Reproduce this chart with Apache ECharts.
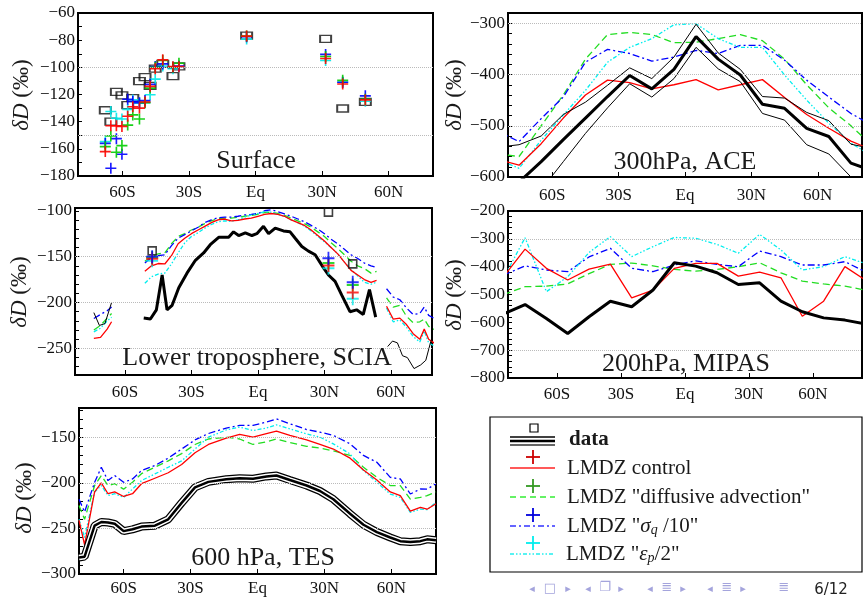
<!DOCTYPE html>
<html>
<head>
<meta charset="utf-8">
<script src="https://cdn.jsdelivr.net/npm/echarts@6/dist/echarts.min.js"></script>
<style>
html, body { margin: 0; padding: 0; background: #fff; }
#chart { width: 863px; height: 599px; }
</style>
</head>
<body>
<div id="chart"></div>
<script>
// ---------- Surface (stations) ----------
var surfLat   = [-67.7, -65.2, -62.7, -60.2, -57.6, -55.3, -52.3, -49.8, -47.5, -45.2, -41.8, -37.2, -34.5, -4, 31.6, 39.3, 49.5];
var surfObs   = [-131.6, -140, -118, -120.7, -127.9, -122.7, -110.2, -107.2, -113.6, -101, -97.4, -106.5, -99.3, -76.7, -79, -130.3, -125.4];
var surfRed   = [-162, -143, -143, -143.5, -136, -129, -130, -125.5, -114, -101, -94.5, -99.5, -99.5, -77, -93.5, -112.3, -124];
var surfGreen = [-158.4, -150.5, -162.5, -157.6, -142.5, -135, -138, -126, -115.3, -100, -95, -100, -97, -77, -92, -109.6, -123.5];
var surfBlue  = [-156, -174.3, -152.5, -164, -123.5, -125, -126, -124.5, -112.5, -99.4, -97.5, -100, -99, -77.5, -90.5, -111, -121];
var surfCyan  = [-154.7, -132.5, -137.5, -138, -131, -124, -126.4, -126, -120.2, -108.7, -99, -101, -99.5, -79.2, -95, -111, -125];

// ---------- 300hPa ACE ----------
var aceLat   = [-85, -75, -65, -55, -45, -35, -25, -15, -5, 5, 15, 25, 35, 45, 55, 65, 75, 85];
var aceObs   = [-650, -610, -570, -527, -485, -443, -402, -428, -390, -326, -370, -401, -458, -466, -505, -521, -573, -588];
var aceHi    = [-542, -537, -520, -478, -454, -421, -387, -408, -366, -302, -358, -390, -443, -446, -474, -490, -536, -545];
var aceLo    = [-700, -680, -625, -570, -515, -465, -418, -444, -408, -347, -389, -414, -476, -489, -537, -555, -600, -640];
var aceRed   = [-565, -577, -535, -485, -440, -411, -416, -428, -420, -410, -430, -420, -410, -445, -478, -505, -530, -548];
var aceGreen = [-555, -560, -500, -440, -370, -322, -318, -322, -338, -337, -330, -322, -334, -370, -420, -465, -500, -540];
var aceBlue  = [-510, -531, -486, -444, -376, -351, -359, -374, -366, -353, -359, -343, -343, -372, -411, -444, -476, -500];
var aceCyan  = [-565, -583, -528, -479, -431, -376, -347, -330, -303, -301, -330, -347, -347, -401, -450, -495, -534, -560];

// ---------- Lower troposphere SCIA ----------
var sciaLat = [-74, -71, -68, -66, -60,
  -51, -48, -45, -42, -39, -36, -33, -30, -27, -24, -21, -18, -15, -12, -9, -6, -3, 0,
  3, 6, 9, 12, 15, 18, 21, 24, 27, 30, 33, 36, 39, 42, 45, 48, 51, 53.5, 56,
  58, 61, 64, 67, 70, 73, 75, 77, 80];
var sciaRed = [-239, -238, -229, -221, null,
  -166, -160, -157.5, -158, -149, -136, -130, -125, -121, -117, -113, -110, -109, -111, -110.5, -109, -108, -106,
  -104, -103, -104, -106, -110, -113, -116, -121, -127, -133, -140, -147, -156, -165, -170, -175, -178, -176, null,
  -204, -218, -217, -224, -234, -240, -229, -240, -245];
var sciaGreen = [-230, -225, -217, -212, null,
  -155, -150, -147, -146, -136, -128, -125, -121, -118, -114, -111, -108.5, -108, -108, -107, -106, -105, -104,
  -102, -101.5, -103, -105, -108, -111, -114, -118, -123, -128, -135, -141, -148, -155, -160, -163, -168, -166, null,
  -195, -205, -203, -215, -222, -221, -218, -226, -230];
var sciaBlue = [-217.5, -213, -209, -205, null,
  -157, -151, -149, -148, -138, -130, -126, -122, -118, -113, -110, -107.5, -107, -107, -106, -104.5, -104, -103,
  -100, -99, -101, -103.5, -106, -109, -112, -116, -120, -125, -131, -136, -142, -148, -152, -157, -160, -162, null,
  -185, -194, -197, -206, -213, -212, -205, -214, -218];
var sciaCyan = [-232, -228, -220, -216, null,
  -179, -172, -169, -168, -158, -146, -135, -128, -124, -119, -115, -112, -111, -111.5, -110, -107, -104.5, -103,
  -101, -101.5, -104, -106, -110, -113, -117, -122, -128, -134, -140, -147, -156, -164, -171, -178, -180, -178, null,
  -206, -221, -219, -227, -237, -243, -231, -244, -248];
var sciaObsLat = [-51.5, -48.5, -45.8, -43.2, -41, -38.7, -35.7, -32, -28.2, -24.5, -21.5, -17.7, -13.2, -11, -8.7, -5.7, -2.7, -0.5,
  2.5, 4.8, 7.8, 11.5, 14.5, 16.8, 19.8, 22.8, 25.8, 29.5, 31.8, 34.8, 37.8, 41.5, 44.5, 47.5, 50.3, 53.1];
var sciaObs = [-217, -218, -208, -170, -208, -203, -184, -168, -154, -146, -137, -129, -129, -123, -127, -124, -127, -125,
  -117, -125, -119, -122, -123, -130, -139, -144, -148, -162, -170, -177, -192, -210, -208, -213, -186, -216];
var sciaThinLat = [-74, -71.5, -69, -66, 0, 58.5, 60.7, 62.9, 65.2, 67.4, 70.4, 73.4, 75.7, 77.9, 80];
var sciaThin    = [-211, -225, -223, -200, null, -248, -242, -244, -258, -260, -272, -268, -263, -243, -228];
// station points on the SCIA panel
var sciaPtLat   = [-47.7, 31.8, 42.75];
var sciaPtObs   = [-143.7, -101.5, -157.9];
var sciaPtRed   = [-152.4, -159.7, -189];
var sciaPtGreen = [-151, -157, -181];
var sciaPtBlue  = [-150, -151.7, -178];
var sciaPtCyan  = [-154.6, -162.6, -196];

// ---------- 200hPa MIPAS ----------
var mipasLat   = [-85, -75, -65, -55, -45, -35, -25, -15, -5, 5, 15, 25, 35, 45, 55, 65, 75, 85];
var mipasObs   = [-570, -536, -586, -640, -580, -524, -544, -484, -386, -398, -422, -464, -458, -524, -562, -584, -592, -606];
var mipasRed   = [-435, -337, -406, -448, -409, -391, -512, -484, -406, -388, -388, -434, -420, -440, -578, -524, -400, -450];
var mipasGreen = [-500, -472, -470, -462, -425, -392, -387, -397, -410, -416, -410, -400, -386, -422, -452, -462, -470, -485];
var mipasBlue  = [-430, -397, -412, -418, -365, -334, -406, -418, -394, -379, -392, -400, -344, -364, -394, -394, -382, -420];
var mipasCyan  = [-440, -296, -490, -436, -349, -292, -364, -328, -295, -298, -320, -352, -284, -340, -412, -400, -364, -390];

// ---------- 600 hPa TES ----------
var tesLat   = [-80, -77.5, -73, -70, -67, -64, -60, -56, -52, -46, -40, -34, -28, -22, -14, -8, -2, 4, 8.5, 14.5, 22, 28, 34, 41.5, 47.5, 53.5, 59.5, 64, 68.5, 73, 76, 80];
var tesObs   = [-282, -281, -247, -243, -243.5, -245, -253, -251, -248, -247, -240, -222, -205, -199, -196, -195, -195.5, -193, -192, -197, -203, -209, -218, -234, -246, -254, -260, -264, -265, -264, -262, -263];
var tesRed   = [-241, -268, -210, -200, -212, -210, -215, -212, -201, -195, -189, -180, -167, -158, -151, -147, -150, -146, -143.4, -148, -153, -158, -163, -173, -186, -197, -210, -214, -231, -227, -229, -223];
var tesGreen = [-225, -240, -203, -192, -203, -201, -207, -199.5, -190, -183, -176, -168, -158, -152, -150, -152, -158, -155, -152, -156, -160, -162, -165, -170, -183, -194, -203, -203, -218, -216, -214, -210];
var tesBlue  = [-218, -232, -199.5, -183, -197.6, -192, -199.5, -195.8, -186.6, -181, -173, -163, -153, -146, -140, -137, -137, -133.5, -130, -135.3, -141.6, -144.5, -148, -157.3, -170, -177.5, -194, -195.8, -212.3, -206.8, -207, -201];
var tesCyan  = [-240, -260, -210, -203, -214, -212, -216, -206.8, -197.6, -190.3, -183, -176, -163, -150, -142, -139, -142.7, -140, -136.4, -140.8, -146.3, -150, -157.3, -168.3, -186.6, -199.5, -212.3, -216, -232.4, -228.8, -229.5, -221.4];

var latTicks = [-60, -30, 0, 30, 60];

var serif = 'Liberation Serif';
var plusPath = 'path://M0,8.5h20v3h-20zM8.5,0h3v20h-3z';

var sty = {
    red:   { color: '#ff0000', width: 1.3, type: 'solid' },
    green: { color: '#22dd22', width: 1.3, type: [7, 4] },
    blue:  { color: '#0000ff', width: 1.3, type: [7, 3, 2, 3] },
    cyan:  { color: '#00eeee', width: 1.3, type: [4, 2, 1.5, 2, 1.5, 2] }
};
var plusCol = { red: '#ff0000', green: '#00cc00', blue: '#0000ff', cyan: '#00e8e8' };

function pairs(xs, ys) {
    return xs.map(function (x, i) { return ys[i] == null ? [x, '-'] : [x, ys[i]]; });
}
function range(a, b, step) {
    var r = [];
    for (var v = a; v <= b + 1e-9; v += step) r.push(v);
    return r;
}
function yFmt(v) { return v < 0 ? '\u2212' + (-v) : '' + v; }
function latFmt(v) { return v === 0 ? 'Eq' : (v < 0 ? (-v) + 'S' : v + 'N'); }

function line(g, xs, ys, lineStyle, z) {
    return {
        type: 'line', xAxisIndex: g, yAxisIndex: g, data: pairs(xs, ys),
        symbol: 'none', silent: true, connectNulls: false, z: z || 2,
        lineStyle: lineStyle
    };
}
function scatter(g, xs, ys, symbol, size, itemStyle, z) {
    return {
        type: 'scatter', xAxisIndex: g, yAxisIndex: g, data: pairs(xs, ys),
        symbol: symbol, symbolSize: size, silent: true, z: z || 3,
        itemStyle: itemStyle
    };
}
function gridLines(g, vals) {
    return {
        type: 'line', xAxisIndex: g, yAxisIndex: g, data: [], silent: true, z: 1,
        markLine: {
            silent: true, symbol: 'none', label: { show: false }, animation: false,
            lineStyle: { color: '#bbbbbb', type: 'dotted', width: 1 },
            data: vals.map(function (v) { return { yAxis: v }; })
        }
    };
}

var grids = [
    { left: 78, top: 13, width: 355, height: 163 },
    { left: 508, top: 13, width: 354, height: 164 },
    { left: 75, top: 208, width: 357, height: 167 },
    { left: 508, top: 211, width: 354, height: 167 },
    { left: 79, top: 408, width: 357, height: 166 }
];
grids.forEach(function (g) {
    g.show = true; g.borderColor = '#000'; g.borderWidth = 2; g.containLabel = false;
});

var xr = [[-80, 80], [-80, 80], [-82.5, 78.5], [-83, 83], [-80, 80]];
var xMargin = [8, 10, 9, 8, 6];
var xAxes = xr.map(function (r, i) {
    return {
        gridIndex: i, type: 'value', min: r[0], max: r[1],
        axisLine: { show: false, onZero: false }, splitLine: { show: false },
        axisTick: { inside: true, length: 5, lineStyle: { color: '#000' }, customValues: latTicks },
        axisLabel: { customValues: latTicks, formatter: latFmt, fontFamily: serif, fontSize: 17, color: '#111', margin: xMargin[i] }
    };
});

var yDefs = [
    { min: -180, max: -60, labels: range(-180, -60, 20), ticks: range(-180, -60, 10) },
    { min: -600, max: -280, labels: range(-600, -300, 100), ticks: range(-600, -280, 20) },
    { min: -279, max: -97, labels: range(-250, -100, 50), ticks: range(-270, -100, 10) },
    { min: -800, max: -200, labels: range(-800, -200, 100), ticks: range(-800, -200, 20) },
    { min: -300, max: -118, labels: range(-300, -150, 50), ticks: range(-300, -120, 10) }
];
var yAxes = yDefs.map(function (d, i) {
    return {
        gridIndex: i, type: 'value', min: d.min, max: d.max,
        axisLine: { show: false, onZero: false }, splitLine: { show: false },
        axisTick: { inside: true, length: 4, lineStyle: { color: '#000' }, customValues: d.ticks },
        axisLabel: { customValues: d.labels, formatter: yFmt, fontFamily: serif, fontSize: 17, color: '#111', margin: 3 }
    };
});

var series = [];
// dotted guide lines
series.push(gridLines(0, [-100, -150]));
series.push(gridLines(1, [-300, -400, -500]));
series.push(gridLines(2, [-150, -200, -250]));
series.push(gridLines(3, [-300, -700]));
series.push(gridLines(4, [-150, -200, -250]));

// Surface: squares then crosses
var boxStyle = { color: 'rgba(255,255,255,0)', borderColor: '#111', borderWidth: 1.6 };
series.push(scatter(0, surfLat, surfObs, 'rect', [11, 7], boxStyle, 2));
series.push(scatter(0, surfLat, surfCyan, plusPath, 11, { color: plusCol.cyan, opacity: 0.9 }));
series.push(scatter(0, surfLat, surfBlue, plusPath, 11, { color: plusCol.blue, opacity: 0.9 }));
series.push(scatter(0, surfLat, surfGreen, plusPath, 11, { color: plusCol.green, opacity: 0.9 }));
series.push(scatter(0, surfLat, surfRed, plusPath, 11, { color: plusCol.red, opacity: 0.9 }));

// ACE
series.push(line(1, aceLat, aceGreen, sty.green));
series.push(line(1, aceLat, aceBlue, sty.blue));
series.push(line(1, aceLat, aceCyan, sty.cyan));
series.push(line(1, aceLat, aceRed, sty.red));
series.push(line(1, aceLat, aceHi, { color: '#000', width: 1 }, 4));
series.push(line(1, aceLat, aceLo, { color: '#000', width: 1 }, 4));
series.push(line(1, aceLat, aceObs, { color: '#000', width: 3 }, 5));

// SCIA
series.push(line(2, sciaLat, sciaGreen, sty.green));
series.push(line(2, sciaLat, sciaBlue, sty.blue));
series.push(line(2, sciaLat, sciaCyan, sty.cyan));
series.push(line(2, sciaLat, sciaRed, sty.red));
series.push(line(2, sciaThinLat, sciaThin, { color: '#000', width: 1 }, 4));
series.push(line(2, sciaObsLat, sciaObs, { color: '#000', width: 3 }, 5));
series.push(scatter(2, sciaPtLat, sciaPtObs, 'rect', [8, 8], boxStyle, 6));
series.push(scatter(2, sciaPtLat, sciaPtCyan, plusPath, [12, 13], { color: plusCol.cyan }, 7));
series.push(scatter(2, sciaPtLat, sciaPtGreen, plusPath, [12, 13], { color: plusCol.green }, 7));
series.push(scatter(2, sciaPtLat, sciaPtRed, plusPath, [12, 13], { color: plusCol.red }, 7));
series.push(scatter(2, sciaPtLat, sciaPtBlue, plusPath, [12, 13], { color: plusCol.blue }, 7));

// MIPAS
series.push(line(3, mipasLat, mipasGreen, sty.green));
series.push(line(3, mipasLat, mipasBlue, sty.blue));
series.push(line(3, mipasLat, mipasCyan, sty.cyan));
series.push(line(3, mipasLat, mipasRed, sty.red));
series.push(line(3, mipasLat, mipasObs, { color: '#000', width: 3 }, 5));

// TES (data drawn as a thin/thick/thin band)
series.push(line(4, tesLat, tesGreen, sty.green));
series.push(line(4, tesLat, tesBlue, sty.blue));
series.push(line(4, tesLat, tesCyan, sty.cyan));
series.push(line(4, tesLat, tesRed, sty.red));
series.push(line(4, tesLat, tesObs, { color: '#000', width: 8 }, 4));
series.push(line(4, tesLat, tesObs, { color: '#fff', width: 5.5 }, 5));
series.push(line(4, tesLat, tesObs, { color: '#000', width: 2.5 }, 6));

// ---------- text, legend, navigation ----------
function txt(x, y, text, font, extra) {
    var s = { text: text, font: font, fill: '#1a1a1a', align: 'center', verticalAlign: 'middle' };
    for (var k in extra || {}) s[k] = extra[k];
    return { type: 'text', x: x, y: y, style: s, z: 20 };
}
function yName(x, y) {
    return {
        type: 'text', x: x, y: y, rotation: Math.PI / 2, z: 20,
        style: {
            text: '{i|\u03b4D} (\u2030)', font: '23px "' + serif + '"', fill: '#1a1a1a',
            align: 'center', verticalAlign: 'middle',
            rich: { i: { fontStyle: 'italic', fontFamily: serif, fontSize: 23 } }
        }
    };
}
function hline(x1, x2, y, color, w, dash) {
    return { type: 'line', z: 20, shape: { x1: x1, y1: y, x2: x2, y2: y },
        style: { stroke: color, lineWidth: w, lineDash: dash || null } };
}
function plus(cx, cy, color) {
    return [
        { type: 'line', z: 21, shape: { x1: cx - 7, y1: cy, x2: cx + 7, y2: cy }, style: { stroke: color, lineWidth: 1.8 } },
        { type: 'line', z: 21, shape: { x1: cx, y1: cy - 7, x2: cx, y2: cy + 7 }, style: { stroke: color, lineWidth: 1.8 } }
    ];
}

var panelFont = '26px "' + serif + '"';
var legFont = '21px "' + serif + '"';
var navFont = '11px "DejaVu Sans"';
var navCol = '#a4a4dc';

var graphic = [
    txt(256, 161, 'Surface', panelFont),
    txt(685, 162, '300hPa, ACE', panelFont),
    txt(257, 358, 'Lower troposphere, SCIA', panelFont),
    txt(686, 364, '200hPa, MIPAS', panelFont),
    txt(263, 558, '600 hPa, TES', panelFont),
    yName(22, 95), yName(455, 95), yName(20, 292), yName(455, 295), yName(25, 498),

    // legend box
    { type: 'rect', z: 19, shape: { x: 490, y: 417, width: 372, height: 155 },
      style: { fill: '#fff', stroke: '#000', lineWidth: 1.2 } },
    { type: 'rect', z: 20, shape: { x: 530, y: 424, width: 8, height: 8 },
      style: { fill: 'none', stroke: '#000', lineWidth: 1.2 } },
    hline(510, 555, 437, '#000', 1.3),
    hline(510, 555, 441, '#000', 2.5),
    hline(510, 555, 445, '#333', 1.5),
    txt(569, 440, 'data', 'bold 21px "' + serif + '"', { align: 'left' }),
    hline(510, 555, 468, '#ff2222', 1.3),
    txt(567, 468, 'LMDZ control', legFont, { align: 'left' }),
    hline(510, 555, 497, '#33ee33', 1.3, [6, 4]),
    txt(567, 497, 'LMDZ "diffusive advection"', legFont, { align: 'left' }),
    hline(510, 555, 526, '#3333ff', 1.3, [6, 3, 2, 3]),
    { type: 'text', x: 567, y: 526, z: 20, style: {
        text: 'LMDZ "{i|\u03c3}{s|q} /10"', font: legFont, fill: '#1a1a1a', align: 'left', verticalAlign: 'middle',
        rich: { i: { fontStyle: 'italic', fontFamily: serif, fontSize: 21 },
                s: { fontStyle: 'italic', fontFamily: serif, fontSize: 14, verticalAlign: 'bottom', padding: [8, 0, 0, 0] } } } },
    hline(510, 555, 554, '#22eeee', 1.3, [4, 2, 1.5, 2, 1.5, 2]),
    { type: 'text', x: 566, y: 554, z: 20, style: {
        text: 'LMDZ "{i|\u03b5}{s|p}/2"', font: legFont, fill: '#1a1a1a', align: 'left', verticalAlign: 'middle',
        rich: { i: { fontStyle: 'italic', fontFamily: serif, fontSize: 21 },
                s: { fontStyle: 'italic', fontFamily: serif, fontSize: 14, verticalAlign: 'bottom', padding: [8, 0, 0, 0] } } } },

    // beamer navigation
    txt(532, 589, '\u25c2', navFont, { fill: navCol }),
    txt(550, 589, '\u25a1', '13px "DejaVu Sans"', { fill: navCol }),
    txt(568, 589, '\u25b8', navFont, { fill: navCol }),
    txt(588, 589, '\u25c2', navFont, { fill: navCol }),
    txt(605, 588, '\u2750', '13px "DejaVu Sans"', { fill: navCol }),
    txt(621, 589, '\u25b8', navFont, { fill: navCol }),
    txt(650, 589, '\u25c2', navFont, { fill: navCol }),
    txt(667, 588, '\u2263', '13px "DejaVu Sans"', { fill: navCol }),
    txt(683, 589, '\u25b8', navFont, { fill: navCol }),
    txt(710, 589, '\u25c2', navFont, { fill: navCol }),
    txt(727, 588, '\u2263', '13px "DejaVu Sans"', { fill: navCol }),
    txt(743, 589, '\u25b8', navFont, { fill: navCol }),
    txt(784, 588, '\u2263', '13px "DejaVu Sans"', { fill: navCol }),
    txt(831, 590, '6/12', '15px "DejaVu Sans"', { fill: '#222' })
].concat(plus(533, 457, '#cc0000'), plus(533, 486, '#339922'),
         plus(533, 515, '#0000dd'), plus(533, 543, '#00eeee'));

var myChart = echarts.init(document.getElementById('chart'), null, { renderer: 'canvas' });
var option = {
    animation: false,
    backgroundColor: '#fff',
    grid: grids,
    xAxis: xAxes,
    yAxis: yAxes,
    series: series,
    graphic: graphic
};
myChart.setOption(option);
</script>
</body>
</html>
